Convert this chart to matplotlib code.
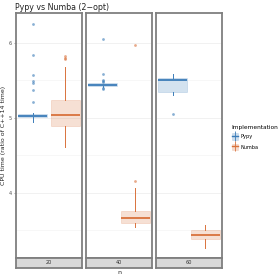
import matplotlib
matplotlib.use("Agg")
import matplotlib.pyplot as plt
from matplotlib.patches import Patch
from matplotlib.lines import Line2D
from matplotlib.legend_handler import HandlerTuple

# data, one entry per facet (n = 20, 40, 60)
sizes = ["20", "40", "60"]
impls = ["Pypy", "Numba"]
colors = {"Pypy": "#3b7cb8", "Numba": "#d9723c"}

pypy_whislo = [4.95, 5.41, 5.30]
pypy_q1 = [5.01, 5.42, 5.35]
pypy_med = [5.03, 5.44, 5.51]
pypy_q3 = [5.05, 5.46, 5.53]
pypy_whishi = [5.07, 5.47, 5.58]
pypy_fliers = [[6.25, 5.84, 5.57, 5.49, 5.46, 5.37, 5.21],
               [6.05, 5.59, 5.51, 5.49, 5.48, 5.40, 5.38],
               [5.05]]

numba_whislo = [4.61, 3.54, 3.27]
numba_q1 = [4.89, 3.60, 3.38]
numba_med = [5.04, 3.66, 3.44]
numba_q3 = [5.24, 3.76, 3.50]
numba_whishi = [5.68, 4.07, 3.57]
numba_fliers = [[5.83, 5.80, 5.78], [5.97, 4.16], []]

ylim = (3.13, 6.40)

fig = plt.figure(figsize=(2.8, 2.8), dpi=100)
W = 280.0
H = 280.0

panel_x = [16, 86, 156]
panel_w = 66
top_px = 13
bot_px = 258
strip_h = 10


def stats(wl, q1, med, q3, wh, fl):
    return dict(whislo=wl, q1=q1, med=med, q3=q3, whishi=wh, fliers=fl)


for i, s in enumerate(sizes):
    ax = fig.add_axes([panel_x[i] / W, (H - bot_px) / H, panel_w / W, (bot_px - top_px) / H])
    ax.set_xlim(0, 1)
    ax.set_ylim(*ylim)
    for y in [3.5, 4.5, 5.5]:
        ax.axhline(y, color="#f2f2f2", lw=0.4, zorder=0)
    for y in [4, 5, 6]:
        ax.axhline(y, color="#ebebeb", lw=0.5, zorder=0)

    for impl, pos in zip(impls, [0.255, 0.745]):
        if impl == "Pypy":
            st = stats(pypy_whislo[i], pypy_q1[i], pypy_med[i], pypy_q3[i], pypy_whishi[i], pypy_fliers[i])
        else:
            st = stats(numba_whislo[i], numba_q1[i], numba_med[i], numba_q3[i], numba_whishi[i], numba_fliers[i])
        c = colors[impl]
        ax.bxp([st], positions=[pos], widths=0.44, patch_artist=True, showcaps=False,
               boxprops=dict(facecolor=matplotlib.colors.to_rgba(c, 0.22),
                             edgecolor=matplotlib.colors.to_rgba(c, 0.25), lw=0.5),
               whiskerprops=dict(color=c, lw=0.7),
               medianprops=dict(color=c, lw=1.3),
               flierprops=dict(marker="o", markersize=2.0, markerfacecolor=c,
                               markeredgecolor="none", alpha=0.6))

    ax.set_xticks([])
    for sp in ax.spines.values():
        sp.set_color("#7f7f7f")
        sp.set_linewidth(1.3)
    if i == 0:
        ax.set_yticks([4, 5, 6])
        ax.set_yticklabels(["4", "5", "6"])
        ax.tick_params(axis="y", labelsize=3.5, length=1.5, width=0.4, color="#555555",
                       labelcolor="#4d4d4d", pad=1.5)
        ax.set_ylabel("CPU time (ratio of C++14 time)", fontsize=4.5, color="#222222", labelpad=2)
    else:
        ax.set_yticks([])

    sax = fig.add_axes([panel_x[i] / W, (H - bot_px - strip_h) / H, panel_w / W, strip_h / H])
    sax.set_facecolor("#d9d9d9")
    sax.set_xticks([])
    sax.set_yticks([])
    for sp in sax.spines.values():
        sp.set_color("#7f7f7f")
        sp.set_linewidth(1.3)
    sax.text(0.5, 0.5, s, ha="center", va="center", fontsize=3.6, color="#333333",
             transform=sax.transAxes)

fig.text(119 / W, 1 - 273 / H, "n", ha="center", va="center", fontsize=4.5, color="#222222")
fig.text(15 / W, 1 - 7 / H, "Pypy vs Numba (2\u2212opt)", ha="left", va="center",
         fontsize=5.7, color="#222222")

handles = []
for impl in impls:
    c = colors[impl]
    handles.append((Line2D([], [], color=c, marker="|", markersize=7, markeredgewidth=0.6,
                           linestyle="none"),
                    Patch(facecolor=matplotlib.colors.to_rgba(c, 0.25),
                          edgecolor=matplotlib.colors.to_rgba(c, 0.25), lw=0.4),
                    Line2D([], [], color=c, lw=1.0)))
leg = fig.legend(handles, impls, title="Implementation", loc="upper left",
                 bbox_to_anchor=(227 / W, 1 - 120 / H), frameon=False, fontsize=3.6,
                 title_fontsize=4.2, handlelength=1.3, handleheight=1.6, handletextpad=0.5,
                 labelspacing=0.8, numpoints=1,
                 handler_map={tuple: HandlerTuple(ndivide=1)})
leg._legend_box.align = "left"

fig.savefig("out.png", dpi=100)
